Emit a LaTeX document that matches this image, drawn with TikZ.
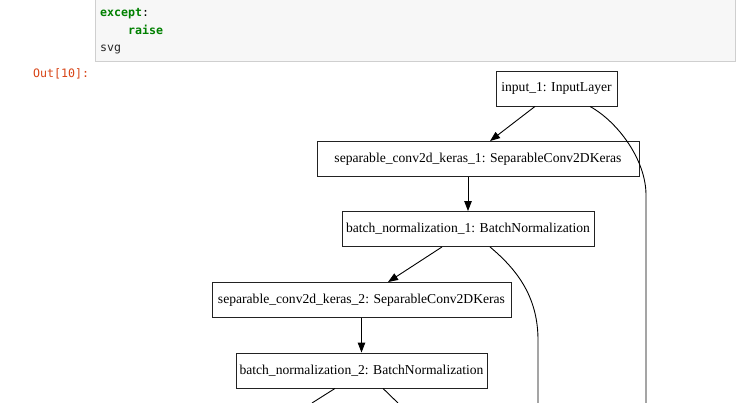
\documentclass[tikz,border=0pt]{standalone}
\usepackage{fontspec}
\setmainfont{Liberation Serif}
\newfontfamily\codefont{DejaVu Sans Mono}
\usetikzlibrary{arrows.meta}
\definecolor{cellbg}{HTML}{F7F7F7}
\definecolor{cellborder}{HTML}{CFCFCF}
\definecolor{kwgreen}{HTML}{008000}
\definecolor{outprompt}{HTML}{D84315}
\definecolor{edgegray}{HTML}{222222}
\tikzset{
  layer/.style={draw=edgegray, line width=0.9pt, rectangle, minimum height=35pt,
    inner sep=0pt, font=\fontsize{13.6}{16}\selectfont, fill=white},
  flow/.style={draw=black, line width=0.9pt, -{Triangle[length=10pt,width=7.5pt]}},
  link/.style={draw=black, line width=0.9pt},
  code/.style={anchor=base west, inner sep=0pt, font=\codefont\fontsize{11.6}{14}\selectfont},
}
\begin{document}
\begin{tikzpicture}[x=1pt, y=-1pt]
\useasboundingbox (0,0) rectangle (752,403);
\clip (0,0) rectangle (752,403);
\fill[white] (0,0) rectangle (752,403);

% code cell
\draw[fill=cellbg, draw=cellborder, line width=0.9pt] (95.5,-10) rectangle (735.5,61);
\node[code] (kw1) at (100,17) {\textcolor{kwgreen}{\bfseries except}\textcolor{black}{:}};
\node[code] (kw2) at (128,35) {\textcolor{kwgreen}{\bfseries raise}};
\node[code] (res) at (100,52) {\textcolor{black!85}{svg}};
\node[code, text=outprompt] (prompt) at (33,78) {Out[10]:};

% model graph
\node[layer, minimum width=121pt] (input) at (556.5,88.5) {input\_1: InputLayer};
\node[layer, minimum width=322pt] (sep1) at (478,159) {separable\_conv2d\_keras\_1: SeparableConv2DKeras};
\node[layer, minimum width=252pt] (bn1) at (468,229) {batch\_normalization\_1: BatchNormalization};
\node[layer, minimum width=299pt] (sep2) at (361.5,300) {separable\_conv2d\_keras\_2: SeparableConv2DKeras};
\node[layer, minimum width=251pt] (bn2) at (361.5,370.5) {batch\_normalization\_2: BatchNormalization};

\coordinate (skipA) at (646,403);
\coordinate (skipB) at (538,403);
\coordinate (downL) at (312,403);
\coordinate (downR) at (398,403);

\draw[flow] ([xshift=-21.5pt]input.south) -- ([xshift=12pt]sep1.north);
\draw[flow] ([xshift=-10pt]sep1.south) -- (bn1.north);
\draw[flow] ([xshift=-26pt]bn1.south) -- ([xshift=26.5pt]sep2.north);
\draw[flow] (sep2.south) -- (bn2.north);

\draw[link] ([xshift=33.5pt]input.south) .. controls (618,122) and (646,160) .. (646,195) -- (skipA);
\draw[link] ([xshift=22pt]bn1.south) .. controls (515,268) and (538,295) .. (538,340) -- (skipB);
\draw[link] ([xshift=-26.5pt]bn2.south) -- (downL);
\draw[link] ([xshift=21.5pt]bn2.south) -- (downR);
\end{tikzpicture}
\end{document}
